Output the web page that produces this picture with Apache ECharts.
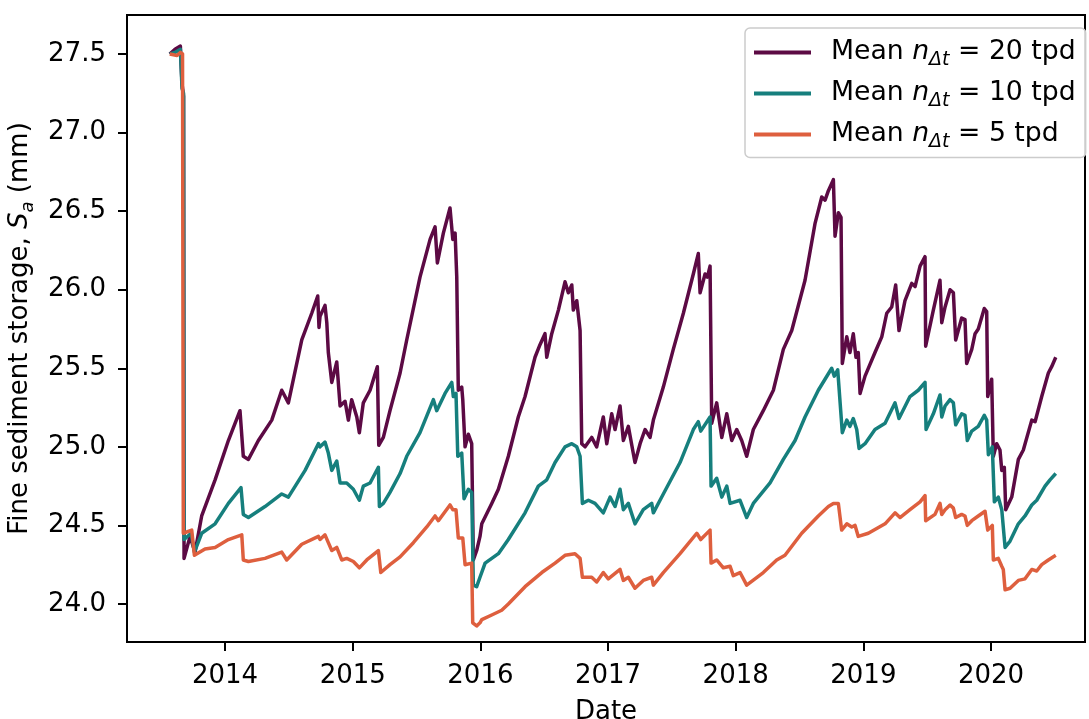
<!DOCTYPE html>
<html>
<head>
<meta charset="utf-8">
<script src="https://cdn.jsdelivr.net/npm/echarts@6/dist/echarts.min.js"></script>
<style>
html,body{margin:0;padding:0;background:#fff;}
#chart{width:1089px;height:719px;}
</style>
</head>
<body>
<div id="chart"></div>
<script>
// ---- data (dates as decimal years) ----
const yearTicks = [2014, 2015, 2016, 2017, 2018, 2019, 2020];
const yTicks = [24.0, 24.5, 25.0, 25.5, 26.0, 26.5, 27.0, 27.5];
const seriesNames = ['Mean n_Δt = 20 tpd', 'Mean n_Δt = 10 tpd', 'Mean n_Δt = 5 tpd'];

const dates20 = [2013.567,2013.608,2013.650,2013.663,2013.675,2013.679,2013.726,2013.765,2013.817,2013.922,
2014.026,2014.117,2014.143,2014.183,2014.261,2014.366,2014.444,2014.496,2014.601,2014.679,
2014.726,2014.736,2014.744,2014.783,2014.797,2014.809,2014.836,2014.875,2014.901,2014.940,
2014.966,2014.992,2015.032,2015.052,2015.083,2015.136,2015.193,2015.204,2015.240,2015.292,
2015.371,2015.423,2015.527,2015.606,2015.645,2015.663,2015.710,2015.762,2015.784,2015.802,
2015.815,2015.827,2015.854,2015.862,2015.880,2015.906,2015.932,2015.945,2015.971,2015.997,
2016.011,2016.089,2016.141,2016.219,2016.297,2016.350,2016.428,2016.467,2016.506,2016.520,
2016.559,2016.611,2016.663,2016.689,2016.716,2016.728,2016.755,2016.781,2016.794,2016.820,
2016.872,2016.911,2016.963,2016.990,2017.029,2017.055,2017.094,2017.120,2017.159,2017.211,
2017.251,2017.290,2017.329,2017.355,2017.433,2017.511,2017.590,2017.668,2017.707,2017.721,
2017.760,2017.778,2017.799,2017.812,2017.851,2017.891,2017.930,2017.969,2018.008,2018.047,
2018.086,2018.138,2018.216,2018.295,2018.373,2018.439,2018.543,2018.621,2018.674,2018.700,
2018.726,2018.765,2018.778,2018.804,2018.825,2018.835,2018.870,2018.895,2018.921,2018.942,
2018.960,2018.974,2019.013,2019.091,2019.144,2019.183,2019.222,2019.253,2019.279,2019.326,
2019.379,2019.405,2019.444,2019.483,2019.488,2019.548,2019.600,2019.614,2019.640,2019.679,
2019.705,2019.723,2019.770,2019.796,2019.809,2019.849,2019.875,2019.900,2019.947,2019.966,
2019.974,2020.005,2020.018,2020.044,2020.070,2020.084,2020.104,2020.115,2020.162,2020.214,
2020.253,2020.319,2020.345,2020.397,2020.449,2020.475,2020.507];
const values20 = [27.50,27.53,27.55,27.31,27.23,24.29,24.43,24.33,24.56,24.79,
25.04,25.23,24.94,24.92,25.04,25.17,25.36,25.28,25.68,25.85,
25.96,25.76,25.83,25.90,25.79,25.60,25.41,25.54,25.26,25.29,
25.17,25.30,25.19,25.09,25.28,25.36,25.51,25.01,25.06,25.23,
25.47,25.68,26.08,26.32,26.40,26.17,26.36,26.52,26.32,26.36,
26.08,25.36,25.38,25.30,25.00,25.08,25.02,24.28,24.34,24.43,
24.51,24.64,24.73,24.94,25.19,25.32,25.57,25.65,25.72,25.57,
25.72,25.87,26.05,25.98,26.03,25.87,25.93,25.74,25.02,25.00,
25.06,25.00,25.19,25.02,25.21,25.11,25.26,25.04,25.13,24.90,
25.02,25.11,25.06,25.17,25.38,25.62,25.85,26.10,26.23,25.98,
26.10,26.08,26.15,25.15,25.28,25.06,25.21,25.04,25.11,25.04,
24.94,25.11,25.23,25.36,25.62,25.74,26.06,26.42,26.59,26.57,
26.63,26.70,26.34,26.49,26.46,25.53,25.70,25.60,25.72,25.57,
25.60,25.34,25.45,25.60,25.70,25.85,25.89,26.03,25.74,25.93,
26.04,26.02,26.15,26.21,25.64,25.87,26.06,25.79,25.89,26.00,
25.98,25.68,25.82,25.81,25.53,25.62,25.72,25.75,25.88,25.86,
25.32,25.43,24.94,25.02,24.98,24.85,24.87,24.60,24.68,24.92,
24.98,25.17,25.16,25.32,25.47,25.51,25.57];

const dates10 = [2013.567,2013.608,2013.650,2013.663,2013.675,2013.679,2013.734,2013.760,2013.817,2013.922,
2014.026,2014.125,2014.143,2014.183,2014.313,2014.444,2014.496,2014.627,2014.731,2014.744,
2014.783,2014.809,2014.836,2014.875,2014.901,2014.953,2015.005,2015.052,2015.083,2015.136,
2015.201,2015.209,2015.240,2015.292,2015.371,2015.423,2015.527,2015.632,2015.658,2015.723,
2015.776,2015.788,2015.809,2015.823,2015.854,2015.872,2015.906,2015.932,2015.945,2015.971,
2015.997,2016.037,2016.141,2016.219,2016.350,2016.454,2016.520,2016.585,2016.663,2016.716,
2016.755,2016.781,2016.799,2016.846,2016.898,2016.963,2017.016,2017.055,2017.094,2017.120,
2017.159,2017.211,2017.276,2017.342,2017.355,2017.433,2017.564,2017.668,2017.707,2017.726,
2017.799,2017.807,2017.851,2017.891,2017.930,2017.956,2018.034,2018.086,2018.138,2018.269,
2018.373,2018.465,2018.543,2018.647,2018.752,2018.772,2018.799,2018.835,2018.870,2018.895,
2018.921,2018.948,2018.966,2019.013,2019.091,2019.170,2019.248,2019.279,2019.365,2019.430,
2019.483,2019.491,2019.548,2019.600,2019.614,2019.640,2019.679,2019.705,2019.723,2019.770,
2019.796,2019.814,2019.849,2019.900,2019.947,2019.966,2019.979,2020.010,2020.026,2020.057,
2020.084,2020.096,2020.110,2020.149,2020.214,2020.266,2020.319,2020.358,2020.423,2020.462,
2020.507];
const values10 = [27.50,27.51,27.53,27.28,27.25,24.41,24.45,24.33,24.45,24.51,
24.64,24.74,24.57,24.55,24.62,24.70,24.68,24.85,25.02,25.00,
25.03,24.96,24.85,24.91,24.77,24.77,24.73,24.66,24.75,24.77,
24.87,24.62,24.64,24.71,24.83,24.94,25.09,25.30,25.23,25.34,
25.41,25.32,25.34,24.94,24.96,24.67,24.73,24.71,24.12,24.11,
24.17,24.26,24.32,24.41,24.58,24.75,24.79,24.90,25.00,25.02,
25.00,24.94,24.64,24.66,24.64,24.58,24.68,24.62,24.73,24.60,
24.64,24.51,24.60,24.64,24.58,24.70,24.90,25.11,25.16,25.10,
25.19,24.75,24.80,24.68,24.75,24.64,24.66,24.55,24.64,24.77,
24.92,25.04,25.19,25.36,25.50,25.45,25.49,25.09,25.17,25.13,
25.18,25.11,24.99,25.02,25.11,25.15,25.28,25.18,25.32,25.36,
25.41,25.11,25.21,25.33,25.19,25.26,25.30,25.28,25.14,25.21,
25.20,25.04,25.10,25.13,25.20,25.17,24.95,25.00,24.65,24.68,
24.60,24.59,24.36,24.40,24.51,24.56,24.63,24.66,24.75,24.79,
24.83];

const dates5 = [2013.567,2013.624,2013.650,2013.667,2013.673,2013.739,2013.760,2013.843,2013.922,2014.026,
2014.131,2014.143,2014.183,2014.313,2014.444,2014.483,2014.601,2014.731,2014.744,2014.783,
2014.809,2014.836,2014.875,2014.914,2014.953,2015.005,2015.052,2015.110,2015.201,2015.220,
2015.292,2015.371,2015.475,2015.580,2015.645,2015.671,2015.762,2015.784,2015.809,2015.827,
2015.862,2015.880,2015.932,2015.940,2015.971,2015.997,2016.011,2016.089,2016.167,2016.219,
2016.350,2016.481,2016.585,2016.663,2016.741,2016.781,2016.799,2016.872,2016.911,2016.963,
2017.002,2017.094,2017.120,2017.159,2017.211,2017.276,2017.342,2017.355,2017.433,2017.564,
2017.695,2017.726,2017.799,2017.807,2017.851,2017.903,2017.956,2017.981,2018.034,2018.086,
2018.216,2018.321,2018.386,2018.517,2018.647,2018.726,2018.765,2018.804,2018.830,2018.870,
2018.909,2018.935,2018.960,2019.039,2019.170,2019.248,2019.287,2019.365,2019.444,2019.483,
2019.488,2019.561,2019.600,2019.614,2019.640,2019.679,2019.705,2019.723,2019.770,2019.796,
2019.814,2019.849,2019.900,2019.953,2019.974,2020.010,2020.018,2020.057,2020.084,2020.096,
2020.110,2020.149,2020.214,2020.266,2020.319,2020.358,2020.397,2020.449,2020.507];
const values5 = [27.50,27.49,27.51,27.50,24.45,24.47,24.31,24.35,24.36,24.41,
24.44,24.28,24.27,24.29,24.33,24.28,24.38,24.43,24.41,24.44,
24.39,24.34,24.36,24.28,24.29,24.27,24.23,24.28,24.34,24.20,
24.25,24.30,24.39,24.49,24.56,24.53,24.63,24.60,24.60,24.42,
24.42,24.25,24.26,23.88,23.86,23.88,23.90,23.93,23.96,24.00,
24.11,24.20,24.26,24.31,24.32,24.29,24.17,24.17,24.14,24.20,
24.16,24.22,24.15,24.17,24.10,24.15,24.17,24.12,24.20,24.32,
24.45,24.41,24.47,24.26,24.28,24.23,24.24,24.18,24.20,24.12,
24.20,24.28,24.31,24.45,24.56,24.62,24.64,24.64,24.47,24.51,
24.49,24.50,24.43,24.45,24.51,24.58,24.55,24.60,24.65,24.69,
24.53,24.57,24.64,24.57,24.60,24.63,24.61,24.55,24.57,24.56,
24.50,24.53,24.56,24.59,24.47,24.50,24.28,24.29,24.24,24.22,
24.09,24.10,24.15,24.16,24.22,24.21,24.25,24.28,24.31];

const xRange = [2013.232, 2020.736];
const yRange = [23.758, 27.748];
const colors = ['#5c0a44', '#167f7d', '#de5f3e'];

function pairs(ds, vs) { return ds.map((d, i) => [d, vs[i]]); }

const FONT = 'DejaVu Sans';
const FS = 26;
function makeRich(fs) {
  return {
    a: { fontFamily: FONT, fontSize: fs, color: '#000', lineHeight: 34 },
    i: { fontFamily: FONT, fontSize: fs, fontStyle: 'italic', color: '#000', lineHeight: 34 },
    s: { fontFamily: FONT, fontSize: Math.round(fs * 0.7), fontStyle: 'italic', color: '#000', lineHeight: 24, verticalAlign: 'bottom' }
  };
}

const chart = echarts.init(document.getElementById('chart'), null, { renderer: 'canvas' });
const seriesData = [pairs(dates20, values20), pairs(dates10, values10), pairs(dates5, values5)];

chart.setOption({
  animation: false,
  backgroundColor: '#fff',
  grid: { left: 127, right: 4, top: 15, bottom: 77, containLabel: false, outerBoundsMode: 'none',
          show: true, borderColor: '#000', borderWidth: 2, backgroundColor: 'transparent' },
  legend: {
    orient: 'vertical',
    left: 745, top: 28,
    padding: [11, 10, 6, 9],
    itemGap: 10.5,
    itemWidth: 57, itemHeight: 4,
    icon: 'rect',
    backgroundColor: 'rgba(255,255,255,0.85)',
    borderColor: '#cccccc', borderWidth: 1.5, borderRadius: 5,
    data: seriesNames,
    formatter: function (name) {
      const m = name.match(/= (.*)$/);
      return '{a|Mean }{i|n}{s|Δt}{a| = ' + m[1] + '}';
    },
    textStyle: { rich: makeRich(26.7), padding: [0, 0, 0, 15] }
  },
  xAxis: {
    type: 'value',
    min: xRange[0], max: xRange[1],
    name: 'Date', nameLocation: 'middle', nameGap: 57,
    nameTextStyle: { fontFamily: FONT, fontSize: FS, color: '#000' },
    axisLine: { show: true, onZero: false, lineStyle: { color: '#000', width: 2 } },
    axisTick: { show: true, length: 9, lineStyle: { color: '#000', width: 2 }, customValues: yearTicks },
    axisLabel: {
      customValues: yearTicks,
      formatter: v => String(Math.round(v)),
      fontFamily: FONT, fontSize: FS, color: '#000', margin: 21
    },
    splitLine: { show: false }
  },
  yAxis: {
    type: 'value',
    min: yRange[0], max: yRange[1],
    name: '{a|Fine sediment storage, }{i|S}{s|a}{a| (mm)}',
    nameLocation: 'middle', nameGap: 76, nameRotate: 90,
    nameTextStyle: { rich: makeRich(FS) },
    axisLine: { show: true, onZero: false, lineStyle: { color: '#000', width: 2 } },
    axisTick: { show: true, length: 9, lineStyle: { color: '#000', width: 2 }, customValues: yTicks },
    axisLabel: {
      customValues: yTicks,
      formatter: v => v.toFixed(1),
      fontFamily: FONT, fontSize: FS, color: '#000', margin: 21
    },
    splitLine: { show: false }
  },
  series: seriesNames.map((n, k) => ({
    name: n,
    type: 'line',
    data: seriesData[k],
    showSymbol: false, symbol: 'none',
    color: colors[k],
    lineStyle: { width: 3.5, color: colors[k], join: 'round' },
    z: 2 + k
  }))
});
</script>
</body>
</html>
